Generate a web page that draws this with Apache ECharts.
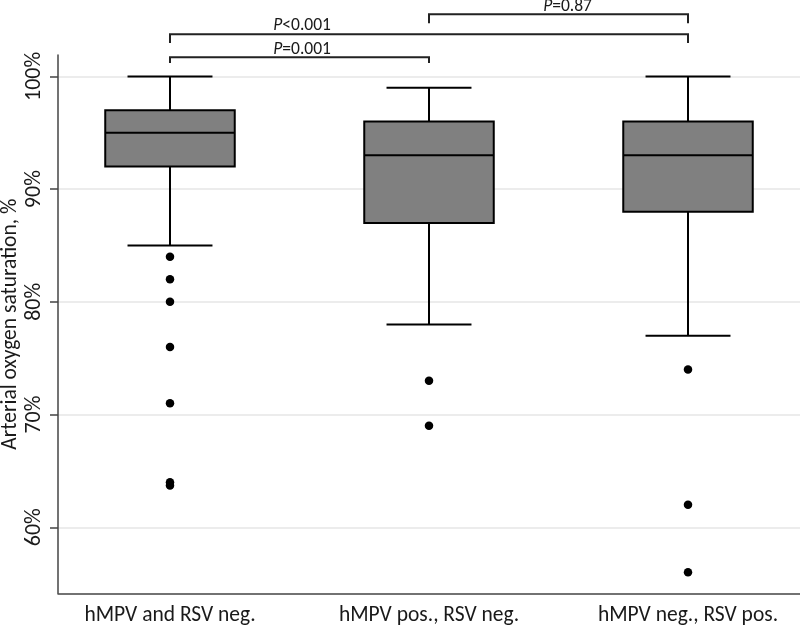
<!DOCTYPE html>
<html>
<head>
<meta charset="utf-8">
<script src="https://cdn.jsdelivr.net/npm/echarts@6/dist/echarts.min.js"></script>
<style>html,body{margin:0;padding:0;background:#fff}#c{width:800px;height:628px}</style>
</head>
<body>
<div id="c"></div>
<script>
// ---- data ----
const categories = ['hMPV and RSV neg.', 'hMPV pos., RSV neg.', 'hMPV neg., RSV pos.'];
const whiskerLow  = [85, 78, 77];
const q1          = [92, 87, 88];
const median      = [95, 93, 93];
const q3          = [97, 96, 96];
const whiskerHigh = [100, 99, 100];
const outliers1 = [84, 82, 80, 76, 71, 64, 63.7];
const outliers2 = [73, 69];
const outliers3 = [74, 62, 56];
const yTicks = [60, 70, 80, 90, 100];
// significance brackets (group index from/to, bracket level, tip level, p text)
const bracketFrom  = [1, 1, 2];
const bracketTo    = [3, 2, 3];
const bracketLevel = [103.74, 101.70, 105.52];
const bracketTip   = [102.97, 101.20, 104.72];
const bracketText  = ['<0.001', '=0.001', '=0.87'];
const bracketLabelX = [1.51, 1.51, 2.535];
const bracketLabelY = [104.5, 102.35, 106.15];

const FONT = 'Carlito, Calibri, Lato, sans-serif';

const boxData = categories.map((c, i) => [i + 1, whiskerLow[i], q1[i], median[i], q3[i], whiskerHigh[i]]);
const outlierData = [];
[outliers1, outliers2, outliers3].forEach((arr, i) => arr.forEach(v => outlierData.push([i + 1, v])));
const bracketData = bracketFrom.map((f, i) => [f, bracketTo[i], bracketLevel[i], bracketTip[i], bracketLabelX[i], bracketLabelY[i], i]);

const chart = echarts.init(document.getElementById('c'));
chart.setOption({
  animation: false,
  backgroundColor: '#fff',
  grid: { left: 58, right: 0, top: 55, bottom: 34.7, containLabel: false, outerBoundsMode: 'none' },
  xAxis: {
    type: 'value', min: 0.5676, max: 3.4324,
    splitLine: { show: false },
    axisLine: { show: true, lineStyle: { color: '#444', width: 1.5 } },
    axisTick: { show: false },
    axisLabel: {
      customValues: [1, 2, 3],
      formatter: v => categories[Math.round(v) - 1] || '',
      color: '#1a1a1a', fontFamily: FONT, fontSize: 21.5, margin: 11
    }
  },
  yAxis: {
    type: 'value', min: 54.14, max: 101.9,
    name: 'Arterial oxygen saturation, %',
    nameLocation: 'middle', nameGap: 36, nameRotate: 90, nameMoveOverlap: false,
    nameTextStyle: { color: '#1a1a1a', fontFamily: FONT, fontSize: 21.5 },
    axisLine: { show: true, lineStyle: { color: '#444', width: 1.5 } },
    axisTick: { show: true, inside: false, length: 8, customValues: yTicks, lineStyle: { color: '#444', width: 1.5 } },
    axisLabel: {
      customValues: yTicks, rotate: 90,
      formatter: v => v + '%',
      color: '#1a1a1a', fontFamily: FONT, fontSize: 22, margin: 13
    },
    splitLine: { show: true, lineStyle: { color: '#e6e6e6', width: 1.5 } }
  },
  series: [
    {
      type: 'custom',
      data: boxData,
      clip: false,
      renderItem: (params, api) => {
        const x = api.value(0);
        const pLow = api.coord([x, api.value(1)]);
        const pQ1 = api.coord([x, api.value(2)]);
        const pMed = api.coord([x, api.value(3)]);
        const pQ3 = api.coord([x, api.value(4)]);
        const pHigh = api.coord([x, api.value(5)]);
        const half = api.size([0.5, 0])[0] / 2;
        const cap = api.size([0.328, 0])[0] / 2;
        const cx = pMed[0];
        const ls = { stroke: '#000', lineWidth: 2 };
        return {
          type: 'group',
          children: [
            { type: 'line', shape: { x1: cx, y1: pHigh[1], x2: cx, y2: pQ3[1] }, style: ls },
            { type: 'line', shape: { x1: cx, y1: pQ1[1], x2: cx, y2: pLow[1] }, style: ls },
            { type: 'line', shape: { x1: cx - cap, y1: pHigh[1], x2: cx + cap, y2: pHigh[1] }, style: ls },
            { type: 'line', shape: { x1: cx - cap, y1: pLow[1], x2: cx + cap, y2: pLow[1] }, style: ls },
            { type: 'rect', shape: { x: cx - half, y: pQ3[1], width: half * 2, height: pQ1[1] - pQ3[1] }, style: { fill: '#808080', stroke: '#000', lineWidth: 2 } },
            { type: 'line', shape: { x1: cx - half, y1: pMed[1], x2: cx + half, y2: pMed[1] }, style: ls }
          ]
        };
      },
      z: 3
    },
    {
      type: 'scatter',
      data: outlierData,
      symbol: 'circle',
      symbolSize: 8.5,
      itemStyle: { color: '#000', opacity: 1 },
      z: 4
    },
    {
      type: 'custom',
      data: bracketData,
      clip: false,
      renderItem: (params, api) => {
        const a = api.coord([api.value(0), api.value(2)]);
        const b = api.coord([api.value(1), api.value(2)]);
        const ta = api.coord([api.value(0), api.value(3)]);
        const tb = api.coord([api.value(1), api.value(3)]);
        const lp = api.coord([api.value(4), api.value(5)]);
        const idx = api.value(6);
        const ls = { stroke: '#222', lineWidth: 2, fill: null };
        return {
          type: 'group',
          children: [
            { type: 'polyline', shape: { points: [[ta[0], ta[1]], [a[0], a[1]], [b[0], b[1]], [tb[0], tb[1]]] }, style: ls },
            { type: 'text', x: lp[0], y: lp[1], style: {
                text: '{i|P}' + bracketText[idx],
                align: 'center', verticalAlign: 'middle',
                fill: '#1a1a1a', font: '17.5px ' + FONT,
                rich: { i: { fontStyle: 'italic', fontFamily: FONT, fontSize: 17.5, fill: '#1a1a1a' } }
              } }
          ]
        };
      },
      z: 5
    }
  ]
});
</script>
</body>
</html>
